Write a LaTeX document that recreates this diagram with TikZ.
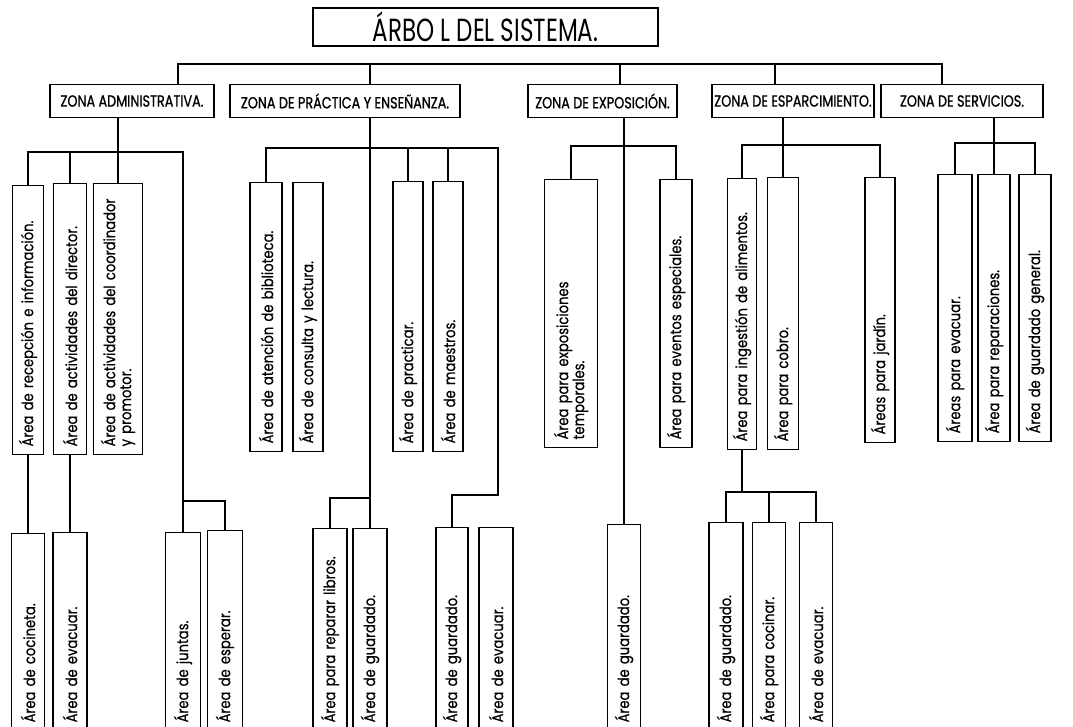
\documentclass[tikz,border=0pt]{standalone}
\usepackage{fontspec}
\newfontfamily\gf[FakeStretch=0.85,FakeBold=0.6]{Poppins}
\newfontfamily\gz[FakeStretch=0.8,FakeBold=1]{Poppins}
\newfontfamily\gt[FakeStretch=0.72]{Poppins}
\begin{document}
\begin{tikzpicture}[x=1pt,y=-1pt,
  conn/.style={line width=1.2pt},
  titlebox/.style={draw, line width=2.2pt, minimum width=345, minimum height=38, inner sep=0pt, font=\gt\fontsize{32}{34}\selectfont},
  zbox/.style={draw, line width=1.2pt, minimum height=33, inner sep=0pt, font=\gz\fontsize{16}{18}\selectfont},
  vbox/.style={draw, line width=1.2pt, rotate=90, anchor=west, inner ysep=0pt, align=left, font=\gf\fontsize{15.5}{16}\selectfont},
]
\clip (0,0) rectangle (1073,727);
\fill[white] (0,0) rectangle (1073,727);
% vertical box: name, x centre, y top, y bottom, width, text
\newcommand\vb[6]{\pgfmathsetmacro\vbl{#4-#3-16}%
  \node[vbox, inner xsep=8pt, minimum height=#5, text width=\vbl pt] (#1) at (#2,#4) {#6};}
\newcommand\vbb[5]{\pgfmathsetmacro\vbl{745-#3-44}%
  \node[vbox, inner xsep=22pt, minimum height=#4, text width=\vbl pt] (#1) at (#2,745) {#5};}

% title
\node[titlebox] (title) at (485.5,27) {ÁRBO L DEL SISTEMA.};

% zones
\node[zbox, minimum width=164] (zadm) at (132,101) {ZONA ADMINISTRATIVA.};
\node[zbox, minimum width=230] (zpra) at (345,101) {ZONA DE PRÁCTICA Y ENSEÑANZA.};
\node[zbox, minimum width=149] (zexp) at (602.5,101) {ZONA DE EXPOSICIÓN.};
\node[zbox, minimum width=162] (zesp) at (793,101) {ZONA DE ESPARCIMIENTO.};
\node[zbox, minimum width=162] (zser) at (962,101) {ZONA DE SERVICIOS.};

% main line
\coordinate (mL) at (178,64);
\coordinate (mP) at (370,64);
\coordinate (mE) at (620,64);
\coordinate (mS) at (775,64);
\coordinate (mR) at (942,64);
\draw[conn] (zadm.north -| mL) -- (mL) -- (mR) -- (zser.north -| mR);
\draw[conn] (mP) -- (zpra.north -| mP);
\draw[conn] (mE) -- (zexp.north -| mE);
\draw[conn] (mS) -- (zesp.north -| mS);

% ---------- administrativa
\vb{a1}{28}{186}{455}{31}{Área de recepción e información.}
\vb{a2}{70}{184}{455}{33}{Área de actividades del director.}
\vb{a3}{118}{184}{455}{49}{Área de actividades del coordinador\\y promotor.}
\vbb{a4}{28}{534}{33}{Área de cocineta.}
\vbb{a5}{70}{533}{34}{Área de evacuar.}
\vbb{a6}{183}{533}{35}{Área de juntas.}
\vbb{a7}{225}{531}{35}{Área de esperar.}
\coordinate (aJ) at (118,152);
\coordinate (aJr) at (183,152);
\coordinate (aK) at (183,501);
\draw[conn] (zadm.south -| a3.east) -- (a3.east);
\draw[conn] (a1.east) -- (a1.east |- aJ) -- (aJr) -- (aK) -| (a7.east);
\draw[conn] (a2.east |- aJ) -- (a2.east);
\draw[conn] (aK) -- (a6.east);
\draw[conn] (a1.west) -- (a4.east);
\draw[conn] (a2.west) -- (a5.east);

% ---------- practica
\vb{p1}{266}{183}{452}{32}{Área de atención de biblioteca.}
\vb{p2}{308}{183}{452}{30}{Área de consulta y lectura.}
\vb{p3}{408}{182}{452}{30}{Área de practicar.}
\vb{p4}{448}{182}{452}{30}{Área de maestros.}
\vbb{p5}{330}{529}{34}{Área para reparar libros.}
\vbb{p6}{370}{529}{34}{Área de guardado.}
\vbb{p7}{452}{528}{32}{Área de guardado.}
\vbb{p8}{496}{528}{34}{Área de evacuar.}
\coordinate (pJ) at (370,148);
\coordinate (pJr) at (498,148);
\coordinate (pK) at (370,498);
\coordinate (pM) at (498,495);
\draw[conn] (zpra.south -| pJ) -- (pK) -| (p5.east);
\draw[conn] (pK) -- (p6.east);
\draw[conn] (p1.east) -- (p1.east |- pJ) -- (pJr) -- (pM) -| (p7.east);
\draw[conn] (p3.east |- pJ) -- (p3.east);
\draw[conn] (p4.east |- pJ) -- (p4.east);

% ---------- exposicion
\vb{e1}{571}{180}{448}{53}{Área para exposiciones\\temporales.}
\vb{e2}{676}{180}{448}{32}{Área para eventos especiales.}
\vbb{e3}{624}{525}{33}{Área de guardado.}
\coordinate (eJ) at (624,146);
\draw[conn] (zexp.south -| e3.east) -- (e3.east);
\draw[conn] (e1.east) -- (e1.east |- eJ) -- (e2.east |- eJ) -- (e2.east);

% ---------- esparcimiento
\vb{s1}{742}{179}{450}{29}{Área para ingestión de alimentos.}
\vb{s2}{783}{178}{450}{31}{Área para cobro.}
\vb{s3}{880}{178}{443}{30}{Áreas para jardín.}
\vbb{s4}{726}{523}{34}{Área de guardado.}
\vbb{s5}{769}{523}{33}{Área para cocinar.}
\vbb{s6}{816}{523}{33}{Área de evacuar.}
\coordinate (sJ) at (783,145);
\coordinate (sK) at (742,492);
\draw[conn] (zesp.south -| s2.east) -- (s2.east);
\draw[conn] (s1.east) -- (s1.east |- sJ) -- (s3.east |- sJ) -- (s3.east);
\draw[conn] (s1.west) -- (sK);
\draw[conn] (s4.east) -- (s4.east |- sK) -- (s6.east |- sK) -- (s6.east);
\draw[conn] (s5.east |- sK) -- (s5.east);

% ---------- servicios
\vb{v1}{955}{175}{442}{34}{Áreas para evacuar.}
\vb{v2}{994}{175}{442}{32}{Área para reparaciones.}
\vb{v3}{1035}{175}{442}{32}{Área de guardado general.}
\coordinate (vJ) at (994,143);
\draw[conn] (zser.south -| v2.east) -- (v2.east);
\draw[conn] (v1.east) -- (v1.east |- vJ) -- (v3.east |- vJ) -- (v3.east);
\end{tikzpicture}
\end{document}
